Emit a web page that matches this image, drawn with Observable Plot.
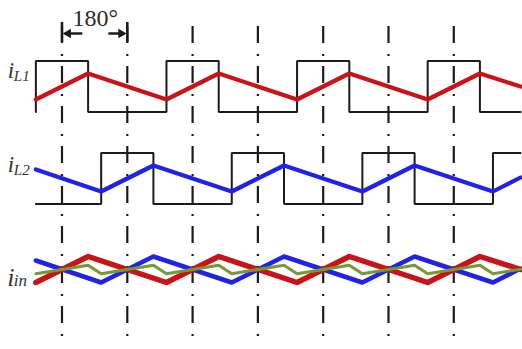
<!DOCTYPE html>
<html><head><meta charset="utf-8">
<script src="https://cdn.jsdelivr.net/npm/d3@7"></script>
<script src="https://cdn.jsdelivr.net/npm/@observablehq/plot@0.6"></script>
<style>html,body{margin:0;padding:0;background:#fff}</style>
</head><body><div id="chart"></div>
<script>
// Horizontal axis: electrical angle in degrees (0 = first phase mark)
const tStart = -72, tEnd = 1264;
const phaseLines = [0, 180, 360, 540, 720, 900, 1080];

// Panels (vertical offsets of the three traces, arbitrary current units)
const panelNames = ["iL1", "iL2", "iin"];
const panelCenter = [263, 171, 80];

// Switching (square) signals: times and normalised state (-1 low, +1 high)
const sq1T = [-72, -72, 72, 288, 432, 648, 792, 1008, 1152, 1264];
const sq1V = [-1, 1, -1, 1, -1, 1, -1, 1, -1, -1];
const sq2T = [-72, 108, 252, 468, 612, 828, 972, 1188, 1264];
const sq2V = [-1, 1, -1, 1, -1, 1, -1, 1, 1];
const squareHalf = 25.5;

// Inductor ripple currents (vertices)
const r1T = [-72, 72, 288, 432, 648, 792, 1008, 1152, 1264];
const r1V = [-13, 13, -13, 13, -13, 13, -13, 13, 0];
const r2T = [-72, 108, 252, 468, 612, 828, 972, 1188, 1264];
const r2V = [9, -13, 13, -13, 13, -13, 13, -13, 1];
// Input current ripple (vertices)
const rinT = [-72, 72, 108, 252, 288, 432, 468, 612, 648, 792, 828, 972, 1008, 1152, 1188, 1264];
const rinV = [-4.3, 4.3, -4.3, 4.3, -4.3, 4.3, -4.3, 4.3, -4.3, 4.3, -4.3, 4.3, -4.3, 4.3, -4.3, 0.3];

// Annotation
const phaseLabel = "180°";
const markTop = 323, markBottom = 11;

const pts = (T, V, c, k = 1) => T.map((t, i) => ({t, v: c + k * V[i]}));

const sq1 = pts(sq1T, sq1V, panelCenter[0], squareHalf);
const sq2 = pts(sq2T, sq2V, panelCenter[1], squareHalf);
const tri1 = pts(r1T, r1V, panelCenter[0]);
const tri2 = pts(r2T, r2V, panelCenter[1]);
const in1 = pts(r1T, r1V, panelCenter[2]);
const in2 = pts(r2T, r2V, panelCenter[2]);
const inSum = pts(rinT, rinV, panelCenter[2]);

const labels = [
  {name: panelNames[0], t: tStart, v: panelCenter[0] + 15.5, main: "i", sub: "L1", fs: 23, ss: 15, w: "normal", sv: panelCenter[0] + 10},
  {name: panelNames[1], t: tStart, v: panelCenter[1] + 14, main: "i", sub: "L2", fs: 23, ss: 15, w: "normal", sv: panelCenter[1] + 8.5},
  {name: panelNames[2], t: tStart, v: panelCenter[2] - 8, main: "i", sub: "in", fs: 26, ss: 17, w: "bold", sv: panelCenter[2] - 11}
];

const black = "#1b1b1b";
const serif = "'Liberation Serif', 'Times New Roman', serif";
const plot = Plot.plot({
  width: 522, height: 349,
  marginTop: 0, marginRight: 0, marginBottom: 0, marginLeft: 0,
  x: {domain: [-169.5, 1269.4], axis: null},
  y: {domain: [0, 349], axis: null},
  style: {background: "#fff"},
  marks: [
    Plot.ruleX(phaseLines, {x: d => d, y1: markTop, y2: markBottom, stroke: black, strokeWidth: 2.2, strokeDasharray: "17,11,2,10", strokeLinecap: "butt"}),
    Plot.line(sq1, {x: "t", y: "v", curve: "step-after", stroke: black, strokeWidth: 2, strokeLinejoin: "miter"}),
    Plot.line(sq2, {x: "t", y: "v", curve: "step-after", stroke: black, strokeWidth: 2, strokeLinejoin: "miter"}),
    Plot.line(tri1, {x: "t", y: "v", stroke: "#c81418", strokeWidth: 4.2}),
    Plot.line(tri2, {x: "t", y: "v", stroke: "#2222e6", strokeWidth: 4.2}),
    Plot.line(in2, {x: "t", y: "v", stroke: "#2222e6", strokeWidth: 4.5}),
    Plot.line(in1, {x: "t", y: "v", stroke: "#c81418", strokeWidth: 5.5}),
    Plot.line(inSum, {x: "t", y: "v", stroke: "#739b34", strokeWidth: 3}),
    // 180° annotation
    Plot.ruleX([0, 180], {x: d => d, y1: 327, y2: 307, stroke: black, strokeWidth: 2.5}),
    Plot.link([{a: 10, b: 56}, {a: 128, b: 170}], {x1: "a", x2: "b", y1: 316, y2: 316, stroke: black, strokeWidth: 2.5}),
    Plot.dot([{t: 17, r: -90}, {t: 163, r: 90}], {x: "t", y: 316, symbol: "triangle", r: 3.6, fill: black, stroke: null, rotate: "r"}),
    Plot.text([phaseLabel], {x: 92, y: 331, text: d => d, fontFamily: serif, fontSize: 24, fill: "#2a2a2a"}),
    // trace labels
    Plot.text(labels, {x: "t", y: "v", text: "main", dx: -25, fontFamily: serif, fontStyle: "italic", fontSize: d => d.fs, fontWeight: d => d.w, fill: "#333"}),
    Plot.text(labels, {x: "t", y: "sv", text: "sub", dx: -22, textAnchor: "start", fontFamily: serif, fontStyle: "italic", fontSize: d => d.ss, fill: "#333"})
  ]
});
document.getElementById("chart").appendChild(plot);
</script>
</body></html>
